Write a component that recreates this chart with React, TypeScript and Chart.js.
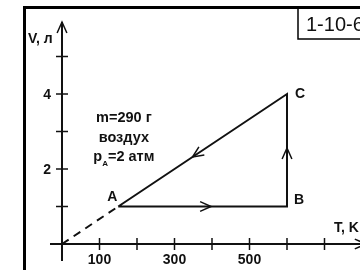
import React, { useEffect, useRef } from "react";
import { Chart, registerables } from "chart.js";

Chart.register(...registerables);

// Cycle A -> B -> C -> A
const cycleT = [150, 600, 600, 150];
const cycleV = [1, 1, 4, 1];
const pointNames = ["A", "B", "C"];
// dashed extension origin -> A
const dashT = [0, 150];
const dashV = [0, 1];

const xTicks = [100, 200, 300, 400, 500, 600, 700];
const xTickLabels = ["100", "", "300", "", "500", "", ""];
const yTicks = [1, 2, 3, 4, 5];
const yTickLabels = ["", "2", "", "4", ""];

const infoLines = ["m=290 г", "воздух"];
const pressureLabel = { main: "p", sub: "A", rest: "=2 атм" };
const problemId = "1-10-6";
const xTitle = "T, K";
const yTitle = "V, л";

const FONT = '"Liberation Sans", Arial, sans-serif';
const INK = "#111";

function chevron(ctx: CanvasRenderingContext2D, tx: number, ty: number, ang: number, len: number, spread: number) {
  ctx.beginPath();
  ctx.moveTo(tx - len * Math.cos(ang - spread), ty - len * Math.sin(ang - spread));
  ctx.lineTo(tx, ty);
  ctx.lineTo(tx - len * Math.cos(ang + spread), ty - len * Math.sin(ang + spread));
  ctx.stroke();
}

const decor = {
  id: "decor",
  beforeDatasetsDraw(chart: any) {
    const ctx: CanvasRenderingContext2D = chart.ctx;
    const xs = chart.scales.x;
    const ys = chart.scales.y;
    const px = (v: number) => xs.getPixelForValue(v);
    const py = (v: number) => ys.getPixelForValue(v);
    ctx.save();
    ctx.fillStyle = "#fff";
    ctx.fillRect(0, 0, chart.width, chart.height);
    // frame
    ctx.fillStyle = "#000";
    ctx.fillRect(23, 6, 3, chart.height);
    ctx.fillRect(23, 6, chart.width, 3);
    // id box
    ctx.strokeStyle = "#000";
    ctx.lineWidth = 1.5;
    ctx.beginPath();
    ctx.moveTo(298, 8);
    ctx.lineTo(298, 39);
    ctx.lineTo(chart.width + 5, 39);
    ctx.stroke();
    ctx.fillStyle = INK;
    ctx.font = `20px ${FONT}`;
    ctx.textAlign = "left";
    ctx.textBaseline = "middle";
    ctx.fillText(problemId, 306, 25);

    // axes
    const x0 = px(0), y0 = py(0);
    ctx.strokeStyle = INK;
    ctx.lineWidth = 2;
    ctx.beginPath();
    ctx.moveTo(px(-32), y0);
    ctx.lineTo(px(810), y0);
    ctx.moveTo(x0, py(-0.45));
    ctx.lineTo(x0, py(5.92));
    ctx.stroke();
    ctx.lineWidth = 1.5;
    chevron(ctx, x0, py(5.92), -Math.PI / 2, 12, 0.42);
    chevron(ctx, px(810), y0, 0, 12, 0.42);

    // ticks
    ctx.lineWidth = 1.5;
    ctx.font = `bold 14px ${FONT}`;
    ctx.textAlign = "center";
    ctx.textBaseline = "middle";
    xTicks.forEach((t, i) => {
      const x = px(t);
      ctx.beginPath();
      ctx.moveTo(x, y0 - 6);
      ctx.lineTo(x, y0 + 6);
      ctx.stroke();
      if (xTickLabels[i]) ctx.fillText(xTickLabels[i], x, y0 + 16);
    });
    yTicks.forEach((v, i) => {
      const y = py(v);
      ctx.beginPath();
      ctx.moveTo(x0 - 6, y);
      ctx.lineTo(x0 + 6, y);
      ctx.stroke();
      if (yTickLabels[i]) {
        ctx.textAlign = "right";
        ctx.fillText(yTickLabels[i], x0 - 11, y + 1);
        ctx.textAlign = "center";
      }
    });
    // axis titles
    ctx.textAlign = "left";
    ctx.fillText(yTitle, 28, 39);
    ctx.fillText(xTitle, 334, 228);

    // info text
    const big = `bold 14.5px ${FONT}`;
    const small = `bold 8px ${FONT}`;
    ctx.font = big;
    ctx.textAlign = "center";
    const cx = px(165);
    ctx.fillText(infoLines[0], cx, py(3.36));
    ctx.fillText(infoLines[1], cx, py(2.83));
    const yL = py(2.32);
    const wMain = ctx.measureText(pressureLabel.main).width;
    const wRest = ctx.measureText(pressureLabel.rest).width;
    ctx.font = small;
    const wSub = ctx.measureText(pressureLabel.sub).width;
    const total = wMain + wSub + wRest;
    let sx = cx - total / 2;
    ctx.textAlign = "left";
    ctx.font = big;
    ctx.fillText(pressureLabel.main, sx, yL);
    sx += wMain;
    ctx.font = small;
    ctx.fillText(pressureLabel.sub, sx, yL + 7);
    sx += wSub;
    ctx.font = big;
    ctx.fillText(pressureLabel.rest, sx, yL);
    ctx.restore();
  },
  afterDatasetsDraw(chart: any) {
    const ctx: CanvasRenderingContext2D = chart.ctx;
    const xs = chart.scales.x;
    const ys = chart.scales.y;
    const px = (v: number) => xs.getPixelForValue(v);
    const py = (v: number) => ys.getPixelForValue(v);
    ctx.save();
    ctx.strokeStyle = INK;
    ctx.lineWidth = 1.5;
    const fracs = [0.55, 0.52, 0.56];
    for (let i = 0; i < 3; i++) {
      const xa = px(cycleT[i]), ya = py(cycleV[i]);
      const xb = px(cycleT[i + 1]), yb = py(cycleV[i + 1]);
      const f = fracs[i];
      const tx = xa + (xb - xa) * f, ty = ya + (yb - ya) * f;
      chevron(ctx, tx, ty, Math.atan2(yb - ya, xb - xa), 12, 0.42);
    }
    ctx.fillStyle = INK;
    ctx.font = `bold 14px ${FONT}`;
    ctx.textAlign = "center";
    ctx.textBaseline = "middle";
    const offs = [[-6, -9], [12, -6], [13, 0]];
    pointNames.forEach((n, i) => {
      ctx.fillText(n, px(cycleT[i]) + offs[i][0], py(cycleV[i]) + offs[i][1]);
    });
    ctx.restore();
  },
};

export default function App() {
  const ref = useRef<HTMLCanvasElement>(null);
  useEffect(() => {
    if (!ref.current) return;
    const chart = new Chart(ref.current, {
      type: "scatter",
      data: {
        datasets: [
          {
            data: cycleT.map((t, i) => ({ x: t, y: cycleV[i] })),
            showLine: true,
            borderColor: INK,
            borderWidth: 2,
            pointRadius: 0,
            fill: false,
          },
          {
            data: dashT.map((t, i) => ({ x: t, y: dashV[i] })),
            showLine: true,
            borderColor: INK,
            borderWidth: 2,
            borderDash: [8, 6],
            pointRadius: 0,
            fill: false,
          },
        ],
      },
      options: {
        animation: false,
        responsive: false,
        devicePixelRatio: 1,
        layout: { padding: 0, autoPadding: false },
        plugins: { legend: { display: false }, tooltip: { enabled: false } },
        scales: {
          x: { type: "linear", display: false, min: -165.33, max: 794.67 },
          y: { type: "linear", display: false, min: -0.6933, max: 6.5067 },
        },
      },
      plugins: [decor],
    } as any);
    return () => chart.destroy();
  }, []);
  return (
    <div style={{ position: "absolute", left: 0, top: 0, width: 360, height: 270, background: "#fff" }}>
      <canvas ref={ref} width={360} height={270} style={{ width: 360, height: 270, display: "block" }} />
    </div>
  );
}
